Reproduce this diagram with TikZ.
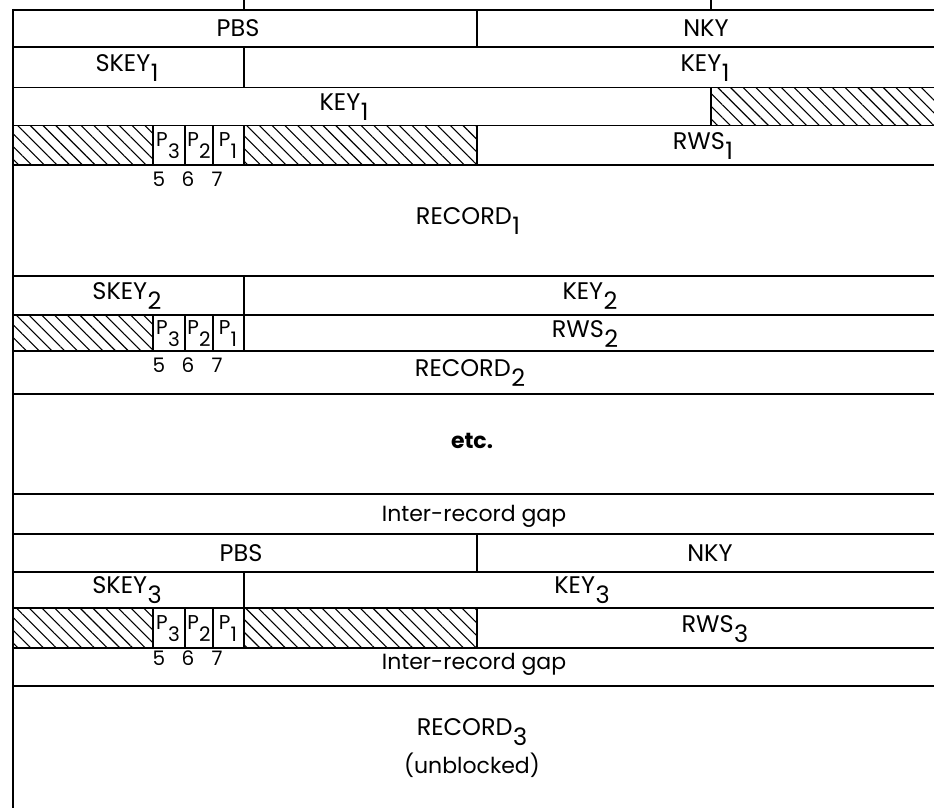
\documentclass[tikz,border=0pt]{standalone}
\usepackage{fontspec}
\setmainfont{Poppins}
\usetikzlibrary{patterns.meta}
\newcommand\dsub[1]{\kern0.5pt\raisebox{-10pt}{#1}}
\newcommand\psub[1]{\kern0.3pt\raisebox{-12pt}{#1}}
\tikzset{
  rule/.style={line width=1.3pt, black},
  border/.style={line width=2.4pt, black},
  hatch/.style={pattern={Lines[angle=-45,distance=9pt,line width=1.1pt]}},
  lbl/.style={inner sep=0pt, font=\fontsize{24}{28}\selectfont},
  sml/.style={inner sep=0pt, font=\fontsize{22}{26}\selectfont},
  plbl/.style={inner sep=0pt, font=\fontsize{20}{24}\selectfont},
}
\begin{document}
\begin{tikzpicture}[x=1pt,y=-1pt]
\useasboundingbox (0,0) rectangle (934,808);
\fill[white] (0,0) rectangle (934,808);
% hatched areas
\foreach \a/\b/\c/\d in {13/125.5/153/165, 244/125.5/477/165, 711/87.5/934/125.5, 13/315/153/351, 13/608/153/648, 244/608/477/648}
  \path[hatch] (\a,\b) rectangle (\c,\d);
% horizontal rules
\draw[line width=2pt] (13,10) -- (934,10);
\foreach \y in {47,87.5,125.5,165,276,315,351,394,494,534,572,608,648,686}
  \draw[rule] (13,\y) -- (934,\y);
% left border
\draw[border] (13,9) -- (13,808);
% vertical dividers
\draw[rule] (244,0) -- (244,10);
\draw[rule] (711,0) -- (711,10);
\draw[rule] (477,10) -- (477,47);
\draw[rule] (244,47) -- (244,87.5);
\draw[rule] (711,87.5) -- (711,125.5);
\foreach \x in {153,185,213,244,477} \draw[rule] (\x,125.5) -- (\x,165);
\draw[rule] (244,276) -- (244,315);
\foreach \x in {153,185,213,244} \draw[rule] (\x,315) -- (\x,351);
\draw[rule] (477,534) -- (477,572);
\draw[rule] (244,572) -- (244,608);
\foreach \x in {153,185,213,244,477} \draw[rule] (\x,608) -- (\x,648);
% block 1
\node[lbl] (pbsA) at (238,28.5) {PBS};
\node[lbl] (nkyA) at (706,28.5) {NKY};
\node[lbl] (skeyA) at (127,68) {SKEY\dsub{1}};
\node[lbl] (keyAa) at (705,68) {KEY\dsub{1}};
\node[lbl] (keyAb) at (344,107) {KEY\dsub{1}};
\node[plbl] (pAc) at (168,146) {P\psub{3}};
\node[plbl] (pAb) at (199,146) {P\psub{2}};
\node[plbl] (pAa) at (228,146) {P\psub{1}};
\node[lbl] (rwsA) at (703,146) {RWS\dsub{1}};
\node[plbl] (nAa) at (159,179) {5};
\node[plbl] (nAb) at (188,179) {6};
\node[plbl] (nAc) at (217,179) {7};
\node[lbl] (recA) at (468,221) {RECORD\dsub{1}};
% block 2
\node[lbl] (skeyB) at (127,296) {SKEY\dsub{2}};
\node[lbl] (keyB) at (590,296) {KEY\dsub{2}};
\node[plbl] (pBc) at (168,334) {P\psub{3}};
\node[plbl] (pBb) at (199,334) {P\psub{2}};
\node[plbl] (pBa) at (228,334) {P\psub{1}};
\node[lbl] (rwsB) at (585,334) {RWS\dsub{2}};
\node[plbl] (nBa) at (159,365) {5};
\node[plbl] (nBb) at (188,365) {6};
\node[plbl] (nBc) at (217,365) {7};
\node[lbl] (recB) at (470,373) {RECORD\dsub{2}};
% etc and gap
\node[sml, anchor=base, font=\fontsize{22}{26}\selectfont\bfseries] (etc) at (472,448) {etc.};
\node[sml, anchor=base] (gapA) at (474,521) {Inter-record gap};
% block 3
\node[lbl] (pbsC) at (241,553) {PBS};
\node[lbl] (nkyC) at (710,553) {NKY};
\node[lbl] (skeyC) at (127,590) {SKEY\dsub{3}};
\node[lbl] (keyC) at (582,590) {KEY\dsub{3}};
\node[plbl] (pCc) at (168,629) {P\psub{3}};
\node[plbl] (pCb) at (199,629) {P\psub{2}};
\node[plbl] (pCa) at (228,629) {P\psub{1}};
\node[lbl] (rwsC) at (715,629) {RWS\dsub{3}};
\node[plbl] (nCa) at (159,658) {5};
\node[plbl] (nCb) at (188,658) {6};
\node[plbl] (nCc) at (217,658) {7};
\node[sml, anchor=base] (gapB) at (474,669) {Inter-record gap};
\node[lbl, anchor=base] (recC) at (472,735) {RECORD\dsub{3}};
\node[sml, anchor=base] (unbl) at (472,773) {(unblocked)};
\end{tikzpicture}
\end{document}
